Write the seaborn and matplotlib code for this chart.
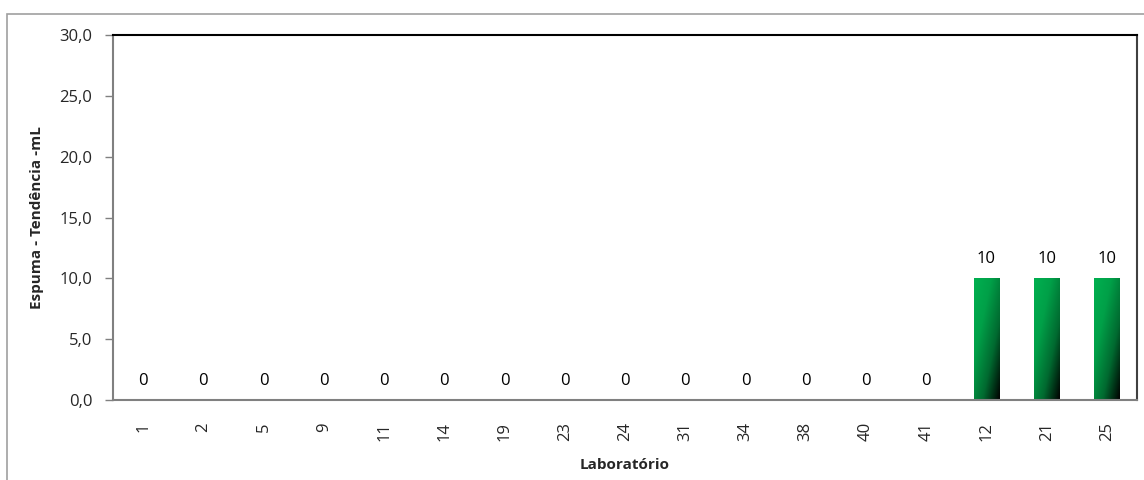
import matplotlib
matplotlib.use("Agg")
import matplotlib.pyplot as plt
import seaborn as sns
import numpy as np
import pandas as pd
from matplotlib.patches import Rectangle
from matplotlib.colors import LinearSegmentedColormap

labs = ["1", "2", "5", "9", "11", "14", "19", "23", "24", "31", "34", "38", "40", "41", "12", "21", "25"]
values = [0, 0, 0, 0, 0, 0, 0, 0, 0, 0, 0, 0, 0, 0, 10, 10, 10]
yticks = [0, 5, 10, 15, 20, 25, 30]

sns.set_theme(style="white")
plt.rcParams['font.family'] = ['Open Sans', 'DejaVu Sans']

fig = plt.figure(figsize=(11.44, 4.8), dpi=100)
ax = fig.add_axes([113/1144, 1-400/480, 1024/1144, 365/480])

df = pd.DataFrame({"lab": labs, "val": values})
sns.barplot(data=df, x="lab", y="val", order=labs, color="#00B050", width=0.42, ax=ax, saturation=1)

# gradient fill for bars
cmap = LinearSegmentedColormap.from_list("g", ["#00B050", "#00A048", "#006A30", "#000000"])
grad = np.add.outer(np.linspace(0, 1, 100), np.linspace(0, 1, 100)) / 2
for p in ax.patches:
    h = p.get_height()
    if h > 0:
        x0 = p.get_x(); w = p.get_width()
        im = ax.imshow(grad, cmap=cmap, extent=[x0, x0 + w, 0, h], aspect="auto",
                       origin="upper", zorder=p.get_zorder() + 0.1)
        im.set_clip_path(p)
        im.set_clip_box(ax.bbox)

ax.set_xlim(-0.5, len(labs) - 0.5)
ax.set_ylim(0, 30)
ax.set_yticks(yticks)
ax.set_yticklabels([f"{t:.1f}".replace(".", ",") for t in yticks], fontsize=12)
ax.set_xticks(range(len(labs)))
ax.set_xticklabels(labs, rotation=90, fontsize=12)

for i, v in enumerate(values):
    ax.text(i, v + 0.9, f"{v}", ha="center", va="bottom", fontsize=12, color="black")

ax.set_xlabel("Laboratório", fontsize=11, fontweight="bold", labelpad=12)
ax.set_ylabel("Espuma - Tendência -mL", fontsize=11, fontweight="bold", labelpad=11)

for s in ["left", "bottom"]:
    ax.spines[s].set_color("#808080")
    ax.spines[s].set_linewidth(1.5)
ax.spines["top"].set_color("black")
ax.spines["top"].set_linewidth(1.5)
ax.spines["right"].set_color("#404040")
ax.spines["right"].set_linewidth(1.5)

ax.tick_params(axis="y", which="both", left=True, length=6, color="#808080", width=1, pad=9)
ax.tick_params(axis="x", which="both", bottom=False, pad=10)

# outer chart border
fig.patches.append(Rectangle((7/1144, -0.1), 1.2, 1-14/480 + 0.1, transform=fig.transFigure,
                             fill=False, edgecolor="#A0A0A0", linewidth=1.2))

fig.savefig("out.png", dpi=100)
